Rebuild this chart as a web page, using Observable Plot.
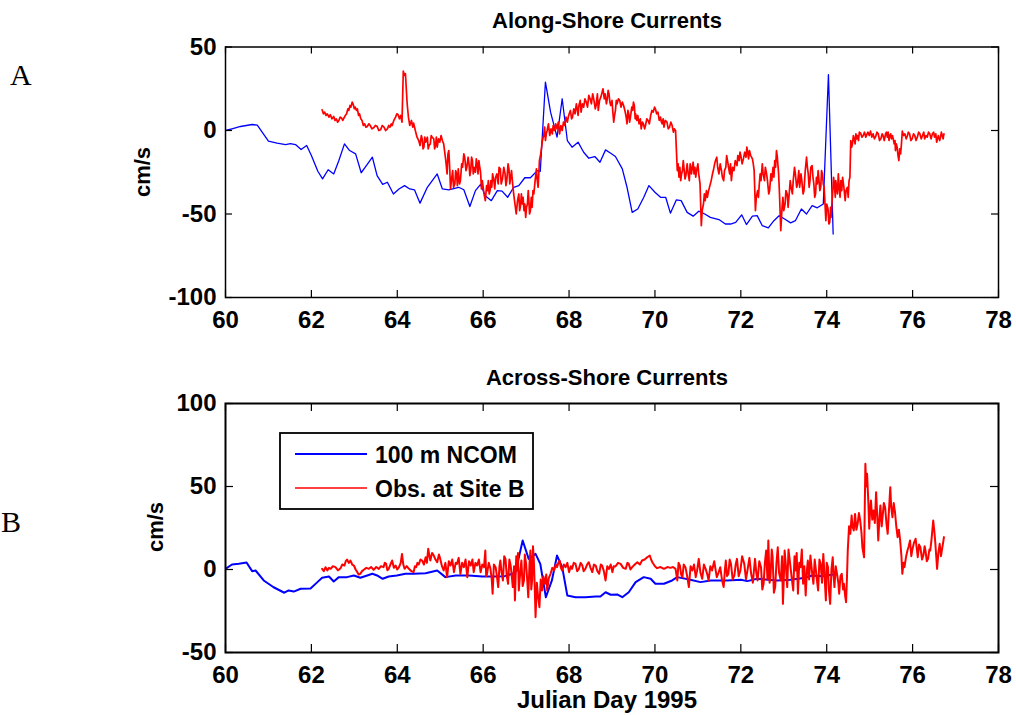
<!DOCTYPE html>
<html>
<head>
<meta charset="utf-8">
<script src="https://cdn.jsdelivr.net/npm/d3@7"></script>
<script src="https://cdn.jsdelivr.net/npm/@observablehq/plot@0.6"></script>
<style>
  html, body { margin: 0; padding: 0; background: #fff; }
  #root { position: relative; width: 1016px; height: 715px; overflow: hidden; background: #fff;
          font-family: "Liberation Sans", Arial, Helvetica, sans-serif; }
</style>
</head>
<body>
<div id="root"></div>
<script>
// ---------- data ----------
const xTicks = [60, 62, 64, 66, 68, 70, 72, 74, 76, 78];
const yTicksA = [-100, -50, 0, 50];
const yTicksB = [-50, 0, 50, 100];
const seriesNames = ["100 m NCOM", "Obs. at Site B"];
const seriesColors = ["#0000ff", "#ff0000"];
const titles = ["Along-Shore Currents", "Across-Shore Currents"];
const panelLetters = ["A", "B"];
const yLabel = "cm/s";
const xLabel = "Julian Day 1995";

// Panel A: along-shore, model (day, cm/s)
const alongNcom = [[60,0],[60.15,1],[60.35,2.4],[60.62,3.6],[60.74,3.2],[61.0,-6.4],[61.2,-7.6],[61.4,-8.4],[61.51,-7.8],[61.63,-8.4],[61.76,-11.4],[61.89,-9],[62.0,-15],[62.15,-24.4],[62.26,-29],[62.39,-23.5],[62.52,-26],[62.64,-18],[62.77,-8],[62.89,-12],[63.03,-14],[63.16,-25.3],[63.28,-21],[63.42,-16],[63.53,-27],[63.66,-32.3],[63.77,-31],[63.91,-38],[64.04,-35],[64.17,-33],[64.29,-35],[64.4,-35.5],[64.53,-43.5],[64.7,-34],[64.93,-26],[65.05,-35],[65.2,-35.5],[65.43,-34],[65.55,-35.5],[65.69,-45.5],[65.82,-36],[65.94,-32.3],[66.05,-39],[66.19,-42],[66.33,-36],[66.44,-36.3],[66.57,-40],[66.71,-34],[66.83,-33],[66.97,-28.3],[67.1,-28.3],[67.26,-24],[67.33,-24.4],[67.45,29],[67.57,11],[67.72,-4],[67.84,19],[67.96,-6],[68.07,-10],[68.21,-7],[68.34,-13],[68.46,-16.6],[68.6,-15.6],[68.72,-19],[68.85,-11.6],[68.97,-13.6],[69.08,-15.6],[69.24,-23],[69.35,-34],[69.47,-49],[69.6,-47],[69.74,-40],[69.86,-33],[70.0,-37],[70.13,-40],[70.25,-40],[70.36,-49.5],[70.5,-41.5],[70.61,-42],[70.75,-49],[70.89,-51.3],[71.02,-48.3],[71.16,-50],[71.29,-52],[71.49,-53.3],[71.64,-56],[71.76,-56],[71.88,-55],[72.02,-50.5],[72.13,-56.3],[72.27,-51.3],[72.38,-51],[72.5,-57],[72.64,-58.3],[72.77,-54],[72.89,-51],[73.02,-53],[73.16,-55.3],[73.27,-54],[73.41,-47],[73.53,-50],[73.66,-45],[73.78,-46.3],[73.92,-44],[74.04,33.5],[74.15,-62]];

// Panel A: along-shore, observations
const alongObs = [[62.25,12.4],[62.28,10],[62.31,11],[62.34,9],[62.37,10],[62.41,8],[62.44,9.5],[62.48,7],[62.52,8.4],[62.55,6],[62.58,7],[62.61,5],[62.64,6],[62.67,8],[62.7,7.5],[62.73,6],[62.76,7.6],[62.79,9],[62.82,10],[62.85,13],[62.87,12],[62.9,15],[62.92,14],[62.95,17],[62.97,16],[63.0,13],[63.02,14],[63.05,12],[63.07,13],[63.1,9],[63.12,10],[63.15,7],[63.18,6],[63.21,3],[63.24,4],[63.27,2],[63.3,2.4],[63.34,4],[63.37,3],[63.41,1],[63.45,1.6],[63.49,3],[63.53,2.5],[63.57,0],[63.61,0.4],[63.65,3],[63.69,2],[63.73,0],[63.77,1],[63.8,3],[63.83,2],[63.86,4],[63.88,3],[63.92,6],[63.96,8],[63.99,10],[64.02,9.5],[64.05,7],[64.08,9],[64.11,5],[64.14,35.5],[64.17,33],[64.19,34],[64.23,16],[64.26,8],[64.29,3],[64.33,6],[64.36,2],[64.38,4.4],[64.42,0],[64.46,-4],[64.5,-6],[64.53,-9],[64.56,-3],[64.58,-5],[64.6,-11],[64.62,-10],[64.64,-4],[64.66,-7],[64.7,-4],[64.72,-11],[64.74,-9],[64.77,-8],[64.79,-3],[64.81,-4],[64.85,-5],[64.87,-11],[64.89,-9],[64.91,-4],[64.93,-10],[64.96,-5],[64.99,-7],[65.02,-3],[65.05,-6],[65.08,-8],[65.1,-12],[65.13,-18],[65.16,-26],[65.18,-14],[65.2,-12],[65.22,-22],[65.24,-35],[65.27,-28],[65.29,-24],[65.31,-34],[65.34,-32],[65.36,-24],[65.38,-26],[65.4,-33],[65.42,-23],[65.45,-32],[65.47,-30],[65.5,-20],[65.52,-22],[65.55,-14],[65.57,-16],[65.6,-24],[65.62,-22],[65.65,-16],[65.67,-20],[65.69,-27],[65.71,-24],[65.73,-16],[65.75,-18],[65.77,-26],[65.79,-22],[65.82,-25],[65.84,-17],[65.86,-20],[65.88,-26],[65.9,-18],[65.92,-22],[65.94,-25],[65.96,-35],[65.98,-30],[66.02,-38],[66.05,-42],[66.08,-33],[66.1,-36],[66.12,-30],[66.14,-38],[66.16,-36],[66.18,-30],[66.2,-34],[66.22,-26],[66.25,-30],[66.27,-35],[66.29,-28],[66.32,-26],[66.35,-32],[66.37,-22],[66.4,-23],[66.42,-32],[66.45,-29],[66.48,-22],[66.51,-26],[66.53,-33],[66.55,-30],[66.58,-20],[66.6,-23],[66.62,-32],[66.64,-28],[66.66,-24],[66.68,-30],[66.71,-38],[66.74,-44],[66.77,-50],[66.8,-42],[66.83,-38],[66.85,-48],[66.87,-45],[66.89,-38],[66.91,-44],[66.93,-40],[66.95,-48],[66.97,-44],[66.99,-52],[67.01,-46],[67.03,-44],[67.05,-36],[67.06,-40],[67.08,-50],[67.1,-48],[67.12,-40],[67.14,-46],[67.16,-36],[67.18,-38],[67.21,-30],[67.24,-23],[67.26,-30],[67.28,-34],[67.3,-24],[67.31,-18],[67.34,-14],[67.36,-10],[67.38,-6],[67.41,-3],[67.43,2],[67.45,-6],[67.47,-2],[67.49,0],[67.52,4],[67.55,-3],[67.58,1],[67.61,-2],[67.63,3],[67.66,0],[67.69,4],[67.72,1],[67.75,5],[67.78,-2],[67.81,3],[67.84,0],[67.87,5],[67.9,3],[67.93,8],[67.96,5],[67.99,9],[68.03,12],[68.06,7],[68.08,8],[68.11,13],[68.14,10],[68.17,16],[68.19,13],[68.21,9],[68.23,15],[68.26,18],[68.28,11],[68.31,16],[68.34,14],[68.37,19],[68.4,17],[68.43,14],[68.46,21],[68.49,19],[68.52,16],[68.55,22],[68.58,18],[68.61,13],[68.63,15],[68.66,22],[68.68,12],[68.71,18],[68.74,20],[68.77,23],[68.79,25],[68.82,19],[68.84,22],[68.87,16],[68.89,19],[68.91,24],[68.93,22],[68.95,17],[68.97,15],[69.0,18],[69.02,11],[69.04,5],[69.06,9],[69.08,12],[69.1,18],[69.12,16],[69.15,19],[69.18,18],[69.21,14],[69.24,17],[69.27,15],[69.3,12],[69.33,8],[69.35,4],[69.37,12],[69.39,10],[69.41,5],[69.43,8],[69.46,14],[69.48,12],[69.5,17],[69.52,15],[69.54,7],[69.55,10],[69.58,6],[69.6,9],[69.63,4],[69.66,7],[69.68,1],[69.71,5],[69.73,4],[69.76,1],[69.78,3],[69.81,7],[69.84,6],[69.87,4],[69.9,9],[69.93,12],[69.96,11],[69.99,14],[70.01,13],[70.04,10],[70.07,11],[70.1,6],[70.13,8],[70.15,5],[70.17,4],[70.19,7],[70.21,2],[70.24,6],[70.28,5],[70.31,1],[70.34,2],[70.37,5],[70.4,3],[70.43,-1],[70.45,1],[70.48,0],[70.5,-12],[70.52,-24],[70.54,-20],[70.56,-28],[70.58,-22],[70.6,-30],[70.62,-26],[70.64,-24],[70.66,-18],[70.67,-21],[70.7,-29],[70.72,-27],[70.75,-20],[70.77,-25],[70.8,-30],[70.82,-20],[70.85,-26],[70.87,-22],[70.89,-19],[70.91,-26],[70.93,-22],[70.95,-28],[70.97,-24],[71.0,-20],[71.02,-26],[71.05,-32],[71.08,-57],[71.1,-48],[71.13,-44],[71.15,-38],[71.17,-42],[71.2,-36],[71.22,-40],[71.25,-36],[71.28,-33],[71.31,-30],[71.34,-26],[71.36,-24],[71.39,-20],[71.41,-18],[71.44,-16],[71.46,-22],[71.49,-26],[71.52,-20],[71.55,-24],[71.57,-28],[71.6,-30],[71.62,-24],[71.65,-22],[71.67,-15],[71.69,-18],[71.72,-23],[71.74,-26],[71.76,-20],[71.78,-30],[71.81,-22],[71.84,-24],[71.87,-18],[71.91,-21],[71.93,-15],[71.96,-18],[71.98,-13],[72.0,-15],[72.03,-20],[72.06,-17],[72.09,-13],[72.12,-16],[72.14,-10],[72.16,-13],[72.18,-17],[72.2,-12],[72.23,-15],[72.27,-17],[72.29,-20],[72.31,-24],[72.34,-48],[72.36,-40],[72.39,-36],[72.41,-40],[72.43,-32],[72.45,-26],[72.47,-30],[72.5,-20],[72.52,-26],[72.55,-30],[72.57,-22],[72.6,-26],[72.62,-30],[72.65,-38],[72.67,-36],[72.7,-26],[72.72,-30],[72.75,-22],[72.77,-28],[72.79,-18],[72.81,-22],[72.83,-12],[72.85,-16],[72.88,-26],[72.9,-38],[72.93,-60],[72.96,-46],[72.98,-40],[73.0,-48],[73.03,-44],[73.05,-36],[73.08,-38],[73.1,-46],[73.12,-40],[73.15,-30],[73.17,-34],[73.2,-38],[73.22,-30],[73.25,-22],[73.27,-26],[73.3,-34],[73.32,-32],[73.35,-24],[73.37,-34],[73.4,-26],[73.42,-30],[73.45,-38],[73.47,-36],[73.5,-24],[73.53,-16],[73.55,-22],[73.57,-26],[73.59,-34],[73.61,-30],[73.63,-22],[73.66,-21],[73.68,-28],[73.7,-32],[73.72,-40],[73.74,-38],[73.76,-28],[73.78,-32],[73.8,-24],[73.82,-30],[73.84,-36],[73.86,-34],[73.88,-24],[73.9,-26],[73.92,-32],[73.94,-34],[73.96,-44],[73.98,-54],[74.0,-44],[74.03,-47],[74.05,-56],[74.07,-55],[74.09,-46],[74.1,-52],[74.12,-44],[74.14,-37],[74.16,-28],[74.18,-33],[74.2,-40],[74.21,-30],[74.23,-34],[74.25,-38],[74.27,-26],[74.29,-34],[74.31,-40],[74.33,-30],[74.35,-36],[74.37,-28],[74.4,-34],[74.43,-42],[74.45,-36],[74.48,-34],[74.5,-40],[74.52,-30],[74.54,-28],[74.56,-6],[74.58,-10],[74.6,-8],[74.62,-3],[74.64,-5],[74.66,-8],[74.68,-2],[74.7,-5],[74.72,-3],[74.74,-6],[74.76,-1],[74.79,-1.6],[74.82,-4],[74.85,-3],[74.88,-1],[74.91,-4],[74.94,-2],[74.96,-1],[74.99,-3],[75.02,-0.4],[75.05,-4],[75.08,-2],[75.11,-5],[75.14,-3.6],[75.17,-1],[75.2,-2],[75.23,-6],[75.26,-5],[75.29,-2],[75.31,-3],[75.34,-6],[75.37,-2],[75.39,-1],[75.41,-4],[75.43,-1],[75.45,-6],[75.47,-3],[75.49,-2],[75.51,-5],[75.53,-3],[75.55,-5],[75.57,-8],[75.59,-6],[75.6,-12],[75.62,-8],[75.64,-10],[75.66,-15],[75.68,-18],[75.7,-11],[75.72,-14],[75.74,-8],[75.76,-0.4],[75.79,-3],[75.82,-2],[75.85,-5],[75.88,-3],[75.9,-1],[75.93,-2],[75.96,-6],[75.99,-5],[76.02,-2],[76.05,-3],[76.08,-6],[76.11,-4],[76.14,-1],[76.17,-2],[76.2,-5],[76.23,-3],[76.26,-1],[76.28,-5],[76.31,-3],[76.34,-4],[76.37,-1],[76.4,-2],[76.43,-5],[76.46,-2],[76.49,-1],[76.51,-4],[76.54,-2],[76.56,-7],[76.58,-5],[76.6,-3],[76.63,-6],[76.65,-4],[76.67,-1],[76.69,-3],[76.71,-5],[76.73,-2]];

// Panel B: across-shore, model
const acrossNcom = [[60,0.4],[60.15,3],[60.31,3.4],[60.49,4.2],[60.62,-1],[60.7,-0.6],[60.89,-6.6],[61.12,-10.7],[61.37,-14],[61.47,-12.6],[61.59,-13.3],[61.75,-11.6],[61.98,-11.4],[62.14,-7.6],[62.25,-5],[62.41,-4.2],[62.52,-7.2],[62.64,-4.6],[62.83,-4.6],[62.99,-3.6],[63.14,-5],[63.3,-3.6],[63.42,-2.6],[63.53,-3.6],[63.66,-5.6],[63.8,-4.2],[63.99,-3.6],[64.19,-2.6],[64.38,-2.6],[64.66,-2.2],[64.93,-0.6],[65.12,-4.6],[65.36,-3.6],[65.67,-3.6],[65.98,-4.2],[66.21,-4.2],[66.5,-4],[66.75,-2],[66.92,17.5],[67.06,6.4],[67.22,9.4],[67.33,3.4],[67.46,-16.7],[67.6,-6.6],[67.72,8.4],[67.84,1.4],[67.96,-15.7],[68.15,-16.7],[68.38,-16.7],[68.62,-16.3],[68.73,-16.3],[68.85,-13.7],[68.97,-15.2],[69.12,-15],[69.24,-16.7],[69.39,-13.7],[69.55,-7.6],[69.74,-4.6],[69.9,-5.6],[70.01,-8.6],[70.21,-8.6],[70.4,-6.6],[70.52,-4.6],[70.8,-6],[71.06,-7.6],[71.3,-6.6],[71.68,-6.6],[72,-6.2],[72.15,-7],[72.38,-5.6],[72.85,-6.6],[73.16,-6.2],[73.5,-5],[73.66,-3.6],[73.9,-4],[74.15,-3]];

// Panel B: across-shore, observations
const acrossObs = [[62.25,0.4],[62.29,-1],[62.33,1.4],[62.37,-0.5],[62.41,1],[62.45,0.4],[62.5,2],[62.56,1.4],[62.62,-0.5],[62.68,0.8],[62.72,3],[62.77,2.4],[62.8,5],[62.83,6],[62.87,4],[62.91,5.4],[62.95,3],[62.99,2.4],[63.03,0],[63.07,-1.6],[63.1,-3],[63.14,-2.6],[63.18,-1],[63.22,-0.2],[63.28,1],[63.34,0.4],[63.39,1.5],[63.45,-0.2],[63.51,1.5],[63.57,0.4],[63.62,2],[63.68,1.4],[63.71,4],[63.74,3.4],[63.77,-0.5],[63.8,0.4],[63.84,3],[63.88,5.4],[63.92,1],[63.96,2.4],[64.0,0],[64.04,1.4],[64.08,4],[64.11,9.4],[64.14,3],[64.17,0.4],[64.22,2],[64.27,0.4],[64.33,-1],[64.38,-1.6],[64.41,2],[64.44,1.4],[64.47,4],[64.5,3],[64.54,6],[64.58,5.4],[64.62,3],[64.66,7.4],[64.69,4],[64.72,12.5],[64.75,8],[64.77,5.4],[64.81,10],[64.85,8.4],[64.89,6],[64.93,4.4],[64.97,9],[65.0,6.4],[65.04,2],[65.08,-0.6],[65.12,4],[65.16,-4.6],[65.2,5],[65.24,2.4],[65.28,6],[65.32,-1.6],[65.36,4],[65.39,3.4],[65.43,7],[65.47,-2.6],[65.51,4],[65.55,1.4],[65.59,6],[65.63,-4.6],[65.67,5],[65.71,2.4],[65.75,6],[65.78,-1.6],[65.82,4],[65.86,2.4],[65.9,6],[65.94,-1.6],[65.98,3],[66.02,1.4],[66.05,11.4],[66.07,-4],[66.09,-2.6],[66.13,4],[66.17,0.4],[66.2,-6],[66.22,-14.6],[66.25,3],[66.29,1.4],[66.32,-4],[66.35,-10.6],[66.38,2],[66.4,5.4],[66.43,-2],[66.46,-6.6],[66.49,8],[66.52,6.4],[66.55,-4],[66.58,-8.6],[66.61,6],[66.64,2.4],[66.67,-5],[66.69,-10.6],[66.72,2],[66.74,-18.6],[66.77,8],[66.79,-0.6],[66.81,10],[66.83,-12.6],[66.86,-3],[66.89,5.4],[66.92,-10],[66.95,-6.6],[66.97,9],[67.0,3.4],[67.03,-8],[67.05,-16.7],[67.08,4],[67.1,11.4],[67.12,-12],[67.14,-6.6],[67.16,14],[67.18,5.4],[67.2,-10],[67.22,-28.7],[67.25,-8],[67.28,-16.7],[67.31,-22.7],[67.34,-6],[67.37,-12.6],[67.4,-4],[67.44,-8.6],[67.47,-3],[67.49,-12.6],[67.53,-5],[67.57,-2.6],[67.61,1],[67.65,-0.6],[67.69,3],[67.72,1.4],[67.75,4],[67.78,5.4],[67.81,1],[67.84,-0.6],[67.88,3],[67.92,1.4],[67.96,4],[68.0,-1.6],[68.04,2],[68.07,0.4],[68.11,4],[68.15,3.4],[68.19,-1],[68.23,0.4],[68.27,4],[68.31,2.4],[68.34,-1],[68.38,0.4],[68.42,3],[68.46,4.4],[68.5,1],[68.54,-1.6],[68.58,3],[68.62,2.4],[68.66,-1],[68.7,-2.6],[68.74,3],[68.77,2.4],[68.81,-1],[68.85,-6.6],[68.89,2],[68.93,0.4],[68.97,3],[69.01,-1.6],[69.04,2],[69.08,1.8],[69.14,4],[69.2,3.4],[69.26,1],[69.32,0.4],[69.36,4],[69.39,3.4],[69.43,0],[69.47,1.4],[69.53,3],[69.59,4.4],[69.65,3],[69.7,5.4],[69.76,6],[69.82,7.4],[69.88,8.4],[69.91,6],[69.94,4.4],[70.0,2],[70.05,0.8],[70.13,1.5],[70.21,0.4],[70.29,1.5],[70.36,1.0],[70.42,1.5],[70.48,0.4],[70.5,-3],[70.52,-6.6],[70.55,4],[70.58,2.4],[70.61,-3],[70.64,-4.6],[70.67,3],[70.71,1.4],[70.75,-4],[70.79,-10.6],[70.83,2],[70.87,-0.6],[70.91,3],[70.95,-4.6],[70.98,-1],[71.02,6.4],[71.06,-2],[71.1,-5.6],[71.14,3],[71.18,0.4],[71.22,-3],[71.25,-6.6],[71.29,2],[71.33,-0.6],[71.38,5],[71.44,-4.6],[71.48,-2],[71.52,1.4],[71.56,-6],[71.6,-10.6],[71.63,0],[71.65,5.4],[71.68,-4],[71.71,-2.6],[71.74,6],[71.77,3.4],[71.81,-6],[71.85,-3.6],[71.88,3],[71.91,6.4],[71.95,-4],[71.99,-0.6],[72.03,8],[72.08,3.4],[72.12,-6],[72.16,0.4],[72.2,7],[72.24,-2.6],[72.28,-8],[72.33,6.4],[72.36,-2],[72.39,-6.6],[72.43,5],[72.47,1.4],[72.5,-12],[72.53,-8.6],[72.56,4],[72.59,11.4],[72.62,-6],[72.64,17.5],[72.67,-8],[72.69,-4.6],[72.72,12],[72.74,7.4],[72.77,-14],[72.8,-10.6],[72.83,4],[72.86,13.4],[72.89,-2],[72.93,-6.6],[72.96,8],[72.98,-20.7],[73.0,-6],[73.02,11.4],[73.05,2],[73.08,-10.6],[73.11,12],[73.14,5.4],[73.18,-4],[73.22,-12.6],[73.25,8],[73.27,-0.6],[73.3,10],[73.33,-14.6],[73.36,4],[73.39,1.4],[73.42,12],[73.45,-8.6],[73.48,2],[73.51,-15.7],[73.54,0],[73.56,5.4],[73.59,-6],[73.62,8.4],[73.66,-2],[73.69,-8.6],[73.72,6],[73.74,1.4],[73.77,-6],[73.8,-12.6],[73.83,6],[73.86,3.4],[73.89,-8],[73.92,9.4],[73.95,-4],[73.98,-18.6],[74.0,4],[74.03,1.4],[74.05,-12],[74.08,-20.7],[74.11,0],[74.14,7.4],[74.16,-4],[74.18,-10.6],[74.21,2],[74.24,-2.6],[74.27,-8],[74.29,-14.6],[74.32,-4],[74.35,-2.6],[74.38,-12],[74.4,-8.6],[74.43,-16],[74.45,-19.7],[74.47,-6],[74.49,11.4],[74.52,26],[74.55,21.5],[74.58,32.5],[74.6,26],[74.63,23.5],[74.66,33.5],[74.69,24],[74.72,27.5],[74.75,34],[74.78,29.5],[74.81,22],[74.83,13.4],[74.87,7.4],[74.9,63.7],[74.92,50],[74.94,57.7],[74.97,40],[74.99,24.5],[75.01,36],[75.03,41.6],[75.06,30],[75.09,35.5],[75.12,28],[75.15,46.6],[75.18,30],[75.2,17.5],[75.23,32],[75.25,38.6],[75.28,26],[75.3,31.5],[75.33,40],[75.36,37.5],[75.39,28],[75.42,21.5],[75.45,36],[75.48,49.6],[75.5,38],[75.53,31.5],[75.56,40],[75.59,34.5],[75.62,26],[75.65,19.5],[75.68,24],[75.71,17.5],[75.74,8],[75.76,-2.6],[75.79,4],[75.81,1.4],[75.85,8],[75.88,11.4],[75.91,14],[75.94,17.5],[75.97,8],[75.99,11.4],[76.03,16],[76.07,18.5],[76.1,12],[76.12,7.4],[76.15,15],[76.18,13.4],[76.22,6],[76.25,8.4],[76.28,14],[76.3,11.4],[76.33,5],[76.36,6.4],[76.39,12],[76.41,11.4],[76.44,18],[76.48,29.5],[76.51,22],[76.53,15.5],[76.55,8],[76.57,0.4],[76.6,10],[76.63,15.5],[76.66,8],[76.68,11.4],[76.71,16],[76.73,19.5]];

// ---------- drawing ----------
const FONT = '"Liberation Sans", Arial, Helvetica, sans-serif';
const root = document.getElementById("root");
const W = 1016, ML = 225, MR = 18;

function panel({top, height, mt, mb, yDomain, yTicks, model, obs, lwModel, lwObs, frameW, tick}) {
  const fw = W - ML - MR;
  const fh = height - mt - mb;
  const chart = Plot.plot({
    width: W, height, marginLeft: ML, marginRight: MR, marginTop: mt, marginBottom: mb,
    style: {background: "transparent", fontFamily: FONT, color: "black"},
    x: {domain: [60, 78]},
    y: {domain: yDomain},
    marks: [
      Plot.line(model, {x: d => d[0], y: d => d[1], stroke: seriesColors[0], strokeWidth: lwModel, clip: true}),
      Plot.line(obs, {x: d => d[0], y: d => d[1], stroke: seriesColors[1], strokeWidth: lwObs, clip: true}),
      Plot.ruleX(xTicks, {x: d => d, insetTop: fh - tick, stroke: "black", strokeWidth: 1.2}),
      Plot.ruleX(xTicks, {x: d => d, insetBottom: fh - tick, stroke: "black", strokeWidth: 1.2}),
      Plot.ruleY(yTicks, {y: d => d, insetRight: fw - tick, stroke: "black", strokeWidth: 1.2}),
      Plot.ruleY(yTicks, {y: d => d, insetLeft: fw - tick, stroke: "black", strokeWidth: 1.2}),
      Plot.axisX({ticks: xTicks, tickSize: 0, tickPadding: 13, label: null, tickFormat: d => String(d),
                  fontSize: 24, fontWeight: "bold", fill: "black"}),
      Plot.axisY({ticks: yTicks, tickSize: 0, tickPadding: 9, label: null, tickFormat: d => String(d),
                  fontSize: 24, fontWeight: "bold", fill: "black"}),
      Plot.frame({stroke: "black", strokeWidth: frameW})
    ]
  });
  chart.style.position = "absolute";
  chart.style.left = "0px";
  chart.style.top = top + "px";
  root.appendChild(chart);
}

panel({top: 0, height: 340, mt: 46.5, mb: 43, yDomain: [-100, 50], yTicks: yTicksA,
       model: alongNcom, obs: alongObs, lwModel: 1.3, lwObs: 1.7, frameW: 1.5, tick: 7});
panel({top: 360, height: 335, mt: 43, mb: 43, yDomain: [-50, 100], yTicks: yTicksB,
       model: acrossNcom, obs: acrossObs, lwModel: 2, lwObs: 2, frameW: 2, tick: 8});

// ---------- text overlay: titles, labels, legend ----------
const ns = "http://www.w3.org/2000/svg";
const ov = document.createElementNS(ns, "svg");
ov.setAttribute("width", W); ov.setAttribute("height", 715);
ov.style.position = "absolute"; ov.style.left = "0"; ov.style.top = "0";
root.appendChild(ov);
function txt(s, x, y, opts = {}) {
  const t = document.createElementNS(ns, "text");
  t.textContent = s;
  t.setAttribute("x", x); t.setAttribute("y", y);
  t.setAttribute("font-family", opts.family || FONT);
  t.setAttribute("font-size", opts.size || 22);
  t.setAttribute("font-weight", opts.weight || "bold");
  t.setAttribute("text-anchor", opts.anchor || "middle");
  t.setAttribute("fill", "black");
  if (opts.rotate) t.setAttribute("transform", `rotate(-90 ${x} ${y})`);
  ov.appendChild(t);
  return t;
}
function el(name, attrs) {
  const e = document.createElementNS(ns, name);
  for (const k in attrs) e.setAttribute(k, attrs[k]);
  ov.appendChild(e);
  return e;
}
txt(titles[0], 607, 28, {size: 22});
txt(titles[1], 607, 385, {size: 22});
txt(xLabel, 607, 708, {size: 24});
txt(yLabel, 150, 172, {rotate: true, size: 22});
txt(yLabel, 163, 527, {rotate: true, size: 22});
const SERIF = '"Liberation Serif", "Times New Roman", serif';
txt(panelLetters[0], 10, 85, {family: SERIF, size: 30, weight: "normal", anchor: "start"});
txt(panelLetters[1], 1, 532, {family: SERIF, size: 30, weight: "normal", anchor: "start"});

// legend
el("rect", {x: 280, y: 433, width: 253, height: 76, fill: "white", stroke: "black", "stroke-width": 1.8});
el("line", {x1: 295, x2: 367, y1: 454, y2: 454, stroke: seriesColors[0], "stroke-width": 2});
el("line", {x1: 295, x2: 367, y1: 488, y2: 488, stroke: seriesColors[1], "stroke-width": 1.6});
txt(seriesNames[0], 375, 463, {anchor: "start", size: 23});
txt(seriesNames[1], 375, 497, {anchor: "start", size: 23});
</script>
</body>
</html>
